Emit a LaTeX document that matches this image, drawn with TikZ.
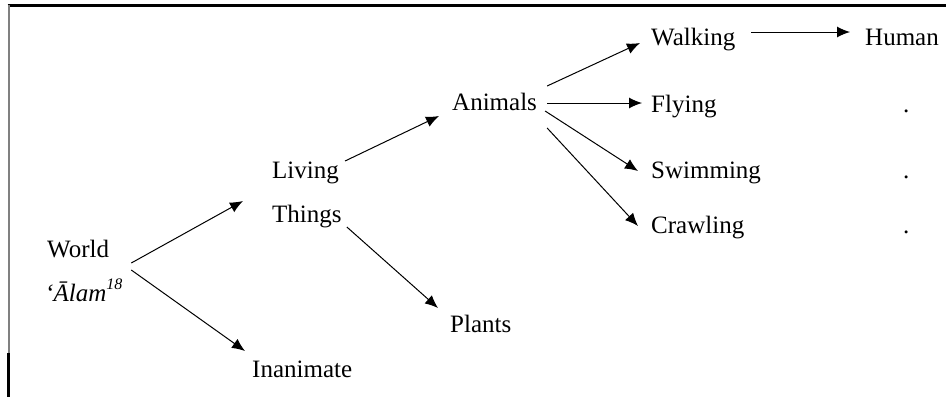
\documentclass[tikz,border=0pt]{standalone}
\usepackage{fontspec}
\setmainfont{Liberation Serif}
\usetikzlibrary{arrows.meta,calc}
\begin{document}
\begin{tikzpicture}[x=1pt,y=-1pt,
  lbl/.style={anchor=base west,inner sep=0pt,font=\fontsize{25}{30}\selectfont},
  arr/.style={line width=1pt,-{Latex[length=13pt,width=11pt]}}]
\useasboundingbox (0,0) rectangle (946,397);
% frame
\draw[line width=2.6pt] (7.5,5.5) -- (946,5.5);
\draw[line width=2pt,gray] (8.5,5) -- (8.5,353);
\draw[line width=2.4pt] (8.5,353) -- (8.5,397);
% nodes
\node[lbl] (world) at (47,257) {World};
\node[lbl] (alam) at (45,301) {\itshape ‘Ālam\raisebox{0.45em}{\fontsize{16}{18}\selectfont 18}};
\node[lbl] (living) at (272,178) {Living};
\node[lbl] (things) at (272,222) {Things};
\node[lbl] (animals) at (452,110) {Animals};
\node[lbl] (plants) at (450,332) {Plants};
\node[lbl] (inanimate) at (252,377) {Inanimate};
\node[lbl] (walking) at (651,45) {Walking};
\node[lbl] (human) at (865,45) {Human};
\node[lbl] (flying) at (651,112) {Flying};
\node[lbl] (swimming) at (651,178) {Swimming};
\node[lbl] (crawling) at (651,233) {Crawling};
\node[lbl] (d1) at (903,112) {.};
\node[lbl] (d2) at (903,178) {.};
\node[lbl] (d3) at (903,233) {.};
% connectors
\draw[arr] ($(world.base east)+(22,6)$) -- ($(living.base west)+(-29,23)$);
\draw[arr] ($(world.base east)+(22,13)$) -- ($(inanimate.base west)+(-7,-26)$);
\draw[arr] ($(living.base east)+(6,-17)$) -- ($(animals.base west)+(-13,6)$);
\draw[arr] ($(things.base east)+(5,5)$) -- ($(plants.base west)+(-12,-24)$);
\draw[arr] ($(animals.base east)+(10,-24)$) -- ($(walking.base west)+(-11,-2)$);
\draw[arr] ($(animals.base east)+(10,-7)$) -- ($(flying.base west)+(-9,-9)$);
\draw[arr] ($(animals.base east)+(8,1)$) -- ($(swimming.base west)+(-13,-7)$);
\draw[arr] ($(animals.base east)+(10,18)$) -- ($(crawling.base west)+(-13,-7)$);
\draw[arr] ($(walking.base east)+(16,-13)$) -- ($(human.base west)+(-15,-13)$);
\end{tikzpicture}
\end{document}
